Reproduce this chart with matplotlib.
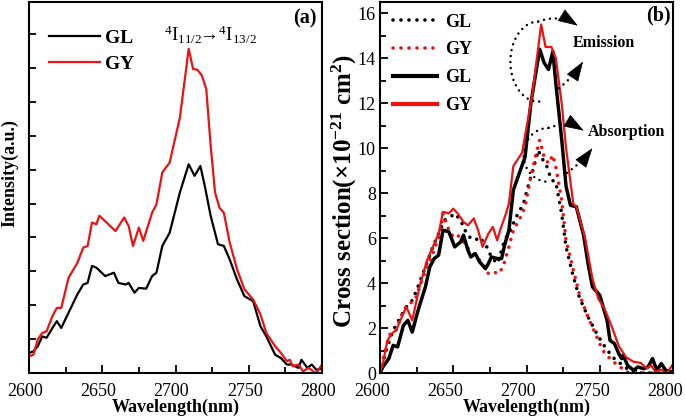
import matplotlib
matplotlib.use("Agg")
import matplotlib.pyplot as plt
from matplotlib.patches import Arc
from matplotlib.transforms import ScaledTranslation
import numpy as np

plt.rcParams['font.family'] = ['Liberation Serif', 'DejaVu Serif']
plt.rcParams['mathtext.fontset'] = 'custom'
plt.rcParams['mathtext.rm'] = 'Liberation Serif'
plt.rcParams['mathtext.it'] = 'Liberation Serif:italic'
plt.rcParams['mathtext.bf'] = 'Liberation Serif:bold'

# ---------------- Panel (a): emission intensity ----------------
wl_a_gy = [2600, 2603, 2606, 2609, 2612, 2616, 2619, 2622, 2627, 2633, 2637, 2640, 2643, 2646,
           2648, 2653, 2659, 2665, 2668, 2671, 2675, 2678, 2684, 2687, 2691, 2696, 2703, 2709,
           2712, 2715, 2718, 2721, 2724, 2727, 2730, 2733, 2737, 2742, 2747, 2753, 2758, 2762,
           2768, 2772, 2776, 2778, 2780, 2784, 2787, 2791, 2794, 2796, 2800]
int_a_gy = [0.49, 0.54, 0.99, 1.18, 1.23, 1.68, 1.92, 1.92, 2.81, 3.25, 3.70, 3.75, 4.44, 4.39,
            4.64, 4.44, 4.19, 4.59, 4.34, 3.75, 4.29, 3.90, 4.73, 4.98, 5.92, 6.21, 7.54, 9.57,
            8.97, 8.95, 8.78, 8.38, 6.71, 5.33, 4.88, 4.73, 3.85, 3.06, 2.47, 2.17, 1.73, 1.18,
            0.79, 0.59, 0.35, 0.39, 0.20, 0.25, 0.05, 0.15, 0.05, 0.00, 0.25]

wl_a_gl = [2600, 2603, 2606, 2609, 2612, 2616, 2619, 2622, 2627, 2633, 2637, 2640, 2643, 2646,
           2652, 2658, 2661, 2666, 2668, 2672, 2675, 2680, 2684, 2687, 2691, 2696, 2703, 2709,
           2713, 2717, 2720, 2724, 2729, 2733, 2737, 2742, 2747, 2753, 2758, 2762, 2768, 2772,
           2776, 2779, 2784, 2786, 2790, 2793, 2796, 2800]
int_a_gl = [0.59, 0.64, 0.79, 1.08, 1.04, 1.33, 1.53, 1.33, 1.78, 2.32, 2.61, 2.66, 3.16, 3.11,
            2.86, 2.96, 2.66, 2.61, 2.66, 2.37, 2.51, 2.49, 2.86, 2.96, 3.75, 4.14, 5.33, 6.16,
            5.82, 6.11, 5.52, 4.64, 3.80, 3.75, 3.35, 2.76, 2.27, 2.12, 1.38, 1.08, 0.54, 0.44,
            0.25, 0.25, 0.15, 0.39, 0.15, 0.25, 0.10, 0.12]

# ---------------- Panel (b): cross sections ----------------
wl_em_gy = [2600, 2602, 2605, 2608, 2611, 2615, 2618, 2622, 2627, 2632, 2636, 2640, 2643, 2647,
            2650, 2653, 2657, 2660, 2664, 2667, 2670, 2674, 2677, 2680, 2682, 2686, 2688, 2691,
            2697, 2704, 2710, 2713, 2717, 2720, 2724, 2727, 2732, 2734, 2740, 2745, 2749, 2753,
            2758, 2763, 2768, 2773, 2778, 2782, 2785, 2788, 2792, 2795, 2797, 2800]
em_gy = [0.0, 0.42, 1.45, 1.75, 1.90, 2.50, 2.94, 2.34, 3.83, 5.00, 5.60, 6.20, 7.17, 7.10,
         7.31, 7.10, 6.72, 6.57, 6.87, 6.35, 5.61, 6.20, 6.50, 5.90, 6.35, 7.09, 7.54, 9.20,
         9.80, 12.4, 15.5, 14.5, 14.5, 14.0, 12.0, 10.0, 7.50, 7.40, 6.00, 4.20, 3.30, 2.90,
         2.10, 1.20, 0.70, 0.50, 0.45, 0.20, 0.35, 0.05, 0.15, 0.00, 0.10, 0.40]

wl_em_gl = [2600, 2602, 2606, 2609, 2612, 2616, 2619, 2622, 2626, 2631, 2634, 2637, 2640, 2643,
            2647, 2651, 2655, 2657, 2660, 2662, 2665, 2668, 2672, 2674, 2676, 2680, 2683, 2685,
            2688, 2691, 2695, 2699, 2703, 2707, 2709, 2712, 2715, 2718, 2720, 2724, 2727, 2730,
            2734, 2739, 2742, 2745, 2750, 2752, 2755, 2757, 2760, 2763, 2765, 2766, 2769, 2773,
            2776, 2780, 2783, 2786, 2789, 2792, 2795, 2800]
em_gl = [0.0, 0.27, 0.64, 1.23, 1.16, 2.12, 2.34, 1.82, 2.79, 3.83, 4.72, 5.09, 5.24, 6.35,
         6.28, 5.61, 5.83, 6.13, 5.46, 5.16, 5.31, 4.94, 4.64, 4.87, 5.16, 5.09, 5.09, 5.68,
         6.35, 8.13, 8.87, 9.60, 12.0, 13.6, 14.4, 13.8, 13.5, 14.3, 12.9, 10.4, 8.30, 7.46,
         7.39, 6.13, 4.87, 3.83, 3.46, 3.01, 2.34, 1.45, 1.31, 0.86, 0.64, 0.79, 0.34, 0.12,
         0.27, 0.19, 0.27, 0.64, 0.12, 0.42, 0.12, 0.04]

wl_ab_gl = [2600, 2603, 2605, 2609, 2614, 2618, 2622, 2625, 2631, 2636, 2641, 2644, 2648, 2651,
            2655, 2658, 2661, 2665, 2668, 2673, 2676, 2680, 2682, 2685, 2689, 2693, 2698, 2701,
            2705, 2708, 2710, 2714, 2717, 2720, 2724, 2727, 2732, 2736, 2742, 2748, 2752, 2757,
            2761, 2766, 2770, 2775, 2785, 2800]
ab_gl = [0.0, 0.71, 1.16, 1.90, 2.49, 2.94, 3.23, 3.68, 4.72, 5.60, 6.35, 6.80, 6.94, 7.09,
         6.80, 6.35, 6.05, 5.90, 6.05, 5.60, 5.16, 4.87, 5.24, 5.90, 6.35, 6.94, 7.54, 8.28,
         9.17, 9.91, 9.61, 9.17, 8.58, 8.50, 7.09, 5.60, 4.27, 3.38, 2.49, 1.75, 1.31, 0.86,
         0.56, 0.34, 0.12, 0.0, 0.0, 0.0]

wl_ab_gy = [2600, 2603, 2607, 2611, 2616, 2620, 2624, 2627, 2632, 2636, 2641, 2643, 2647, 2650,
            2653, 2658, 2661, 2666, 2670, 2674, 2677, 2681, 2684, 2688, 2691, 2695, 2699, 2702,
            2706, 2709, 2712, 2715, 2718, 2720, 2724, 2727, 2732, 2736, 2742, 2748, 2752, 2758,
            2764, 2768, 2780, 2800]
ab_gy = [0.0, 0.86, 1.75, 1.90, 2.79, 3.09, 3.23, 3.83, 4.72, 5.31, 6.20, 7.09, 6.35, 6.05,
         6.13, 5.76, 5.46, 5.16, 4.87, 4.42, 4.50, 4.42, 4.72, 5.61, 6.35, 6.80, 7.39, 8.43,
         9.61, 10.36, 9.61, 9.32, 9.69, 9.17, 7.69, 5.90, 4.57, 3.53, 2.49, 1.60, 1.01, 0.56,
         0.27, 0.04, 0.0, 0.0]

xticks = [2600, 2650, 2700, 2750, 2800]
yticks_b = [0, 2, 4, 6, 8, 10, 12, 14, 16]

RED = '#ee1111'

fig = plt.figure(figsize=(6.85, 4.2), dpi=100)
axa = fig.add_axes([29/685, 1-373/420, (322-29)/685, 371/420])
axb = fig.add_axes([380/685, 1-373/420, (673-380)/685, 371/420])

def style(ax, shift_px):
    for s in ax.spines.values():
        s.set_linewidth(1.5)
    ax.set_xlim(2600, 2800)
    ax.set_xticks(xticks)
    ax.set_xticks([2625, 2675, 2725, 2775], minor=True)
    ax.tick_params(which='both', direction='in', width=1.3, labelsize=13)
    ax.tick_params(axis='x', pad=7.5)
    ax.tick_params(axis='y', pad=3)
    ax.tick_params(which='major', length=6)
    ax.tick_params(which='minor', length=4)
    ax.tick_params(axis='y', which='both', right=False)
    ax.tick_params(axis='x', which='both', top=False)
    off = ScaledTranslation(-shift_px/100, 0, fig.dpi_scale_trans)
    for lab in ax.get_xticklabels():
        lab.set_transform(lab.get_transform() + off)
    ax.set_xlabel('Wavelength(nm)', fontsize=13, fontweight='bold', labelpad=-1)

# ---- (a)
style(axa, 4)
axa.plot(wl_a_gl, int_a_gl, color='black', lw=1.6, label='GL')
axa.plot(wl_a_gy, int_a_gy, color=RED, lw=1.6, label='GY')
axa.set_ylim(0, 10.95)
axa.set_yticks(np.arange(1, 11))
axa.set_yticklabels([])
axa.tick_params(axis='y', which='major', length=5)
axa.set_ylabel('Intensity(a.u.)', fontsize=13, fontweight='bold')
axa.yaxis.set_label_coords(-0.035, 0.539)
axa.legend(loc='upper left', bbox_to_anchor=(0.068, 0.927), frameon=False, borderpad=0,
           borderaxespad=0, handlelength=2.63, handletextpad=0.26, labelspacing=0.45,
           prop={'weight': 'bold', 'size': 14})
axa.text(0.94, 0.955, '(a)', transform=axa.transAxes, ha='center', va='center',
         fontsize=14.5, fontweight='bold')
axa.text(0.62, 0.912, r'$^4\mathrm{I}_{11/2}\!\!\rightarrow\!{}^4\mathrm{I}_{13/2}$',
         transform=axa.transAxes, ha='center', va='center', fontsize=13.5)

# ---- (b)
style(axb, 8)
dot = (0, (0.01, 2.2))
axb.plot(wl_ab_gl, ab_gl, color='black', lw=2.6, ls=dot, dash_capstyle='round', label='GL')
axb.plot(wl_ab_gy, ab_gy, color=RED, lw=2.6, ls=dot, dash_capstyle='round', label='GY')
axb.plot(wl_em_gl, em_gl, color='black', lw=2.5, label='GL')
axb.plot(wl_em_gy, em_gy, color=RED, lw=1.6, label='GY')
axb.set_ylim(0, 16.5)
axb.set_yticks(yticks_b)
axb.set_yticks(np.arange(1, 16, 2), minor=True)
axb.set_ylabel(r'Cross section($\mathbf{\times10^{-21}}$ $\mathbf{cm^2}$)', fontsize=18,
               fontweight='bold')
axb.yaxis.set_label_coords(-0.072, 0.49)
leg = axb.legend(loc='upper left', bbox_to_anchor=(0.044, 0.969), frameon=False, borderpad=0,
                 borderaxespad=0, handlelength=2.44, handletextpad=0.44, labelspacing=0.6,
                 prop={'weight': 'bold', 'size': 13})
for h in leg.get_lines()[2:]:
    h.set_linewidth(3.0)
axb.text(0.95, 0.965, '(b)', transform=axb.transAxes, ha='center', va='center',
         fontsize=14.5, fontweight='bold')

# annotation: dotted circular arrows
dls = (0, (0.01, 2.4))
dkw = dict(color='black', lw=1.8, ls=dls, capstyle='round')


def curved_arrow(start, tip, rad):
    axb.annotate('', xy=tip, xytext=start,
                 arrowprops=dict(arrowstyle='-', color='black', lw=1.8, ls=dls,
                                 capstyle='round', connectionstyle=f'arc3,rad={rad}',
                                 shrinkA=0, shrinkB=2))
    p1 = axb.transData.transform(start)
    p2 = axb.transData.transform(tip)
    mid = (p1 + p2) / 2
    d = p2 - p1
    ctrl = np.array([mid[0] + rad * d[1], mid[1] - rad * d[0]])
    t = p2 - ctrl
    t = t / np.hypot(*t)
    back = axb.transData.inverted().transform(p2 - 6 * t)
    axb.annotate('', xy=tip, xytext=back,
                 arrowprops=dict(arrowstyle='-|>,head_length=1.3,head_width=0.45',
                                 color='black', lw=0.5, mutation_scale=10,
                                 shrinkA=0, shrinkB=0))


axb.add_patch(Arc((2708, 13.85), 38, 3.56, theta1=90, theta2=318, **dkw))
curved_arrow((2708, 15.63), (2735, 15.45), -0.25)
curved_arrow((2722.1, 12.66), (2738.6, 13.85), 0.08)
axb.add_patch(Arc((2715, 9.7), 34, 2.4, theta1=90, theta2=318, **dkw))
curved_arrow((2715, 10.9), (2739, 10.78), -0.25)
curved_arrow((2727.6, 8.9), (2745, 10.0), 0.08)
axb.text(2731.7, 14.66, 'Emission', fontsize=11.5, fontweight='bold', ha='left', va='center')
axb.text(2742, 10.7, 'Absorption', fontsize=11.5, fontweight='bold', ha='left', va='center')

fig.savefig('out.png', dpi=100)
